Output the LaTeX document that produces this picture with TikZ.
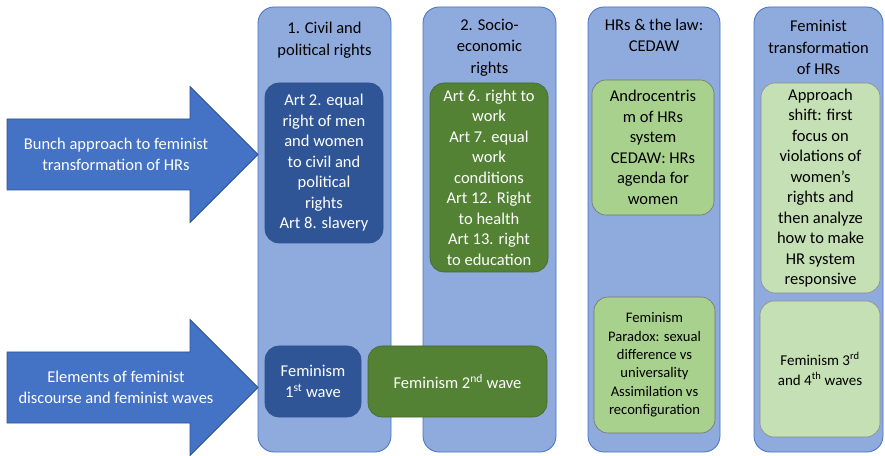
\documentclass[tikz,border=0pt]{standalone}
\usepackage{fontspec}
\setmainfont{Carlito}
\usetikzlibrary{positioning}
\definecolor{colblue}{HTML}{8FAADC}
\definecolor{midblue}{HTML}{4472C4}
\definecolor{edgeblue}{HTML}{2F528F}
\definecolor{darkblue}{HTML}{2F5597}
\definecolor{darkgreen}{HTML}{548235}
\definecolor{lightgreen}{HTML}{A9D18E}
\definecolor{palegreen}{HTML}{C5E0B4}
\newcommand{\bodyfont}{\fontsize{16.5}{20.5}\selectfont}

\begin{document}
\begin{tikzpicture}[x=1pt,y=1pt,
      column/.style={
         rectangle,
         rounded corners=16pt,
         draw=midblue,
         fill=colblue,
         line width=0.8pt,
         inner sep=0pt,
         minimum height=445pt},
      coltitle/.style={align=center, inner sep=0pt, font=\fontsize{16.5}{21.5}\selectfont},
      box/.style={
         rectangle,
         rounded corners=14pt,
         align=center,
         inner sep=0pt,
         line width=0.6pt,
         font=\bodyfont},
      bluebox/.style={box, fill=darkblue, draw=edgeblue, text=white},
      greenbox/.style={box, fill=darkgreen, draw=darkgreen!80!black, text=white},
      lightbox/.style={box, fill=lightgreen, draw=black!55},
      palebox/.style={box, fill=palegreen, draw=black!45},
      bigarrow/.style={fill=midblue, draw=edgeblue, line width=0.8pt},
      arrowtext/.style={align=center, text=white, inner sep=0pt, font=\bodyfont}
      ]
      \useasboundingbox (0,0) rectangle (885,455);

      % the four columns
      \node[column, minimum width=133pt] (civil) at (324.5,225.5) {};
      \node[column, minimum width=133pt] (socio) at (489.5,225.5) {};
      \node[column, minimum width=132pt] (cedaw) at (654,225.5) {};
      \node[column, minimum width=129pt] (transf) at (818.5,225.5) {};

      \node[coltitle] (civilt) at (324.5,415) {1. Civil and\\political rights};
      \node[coltitle] (sociot) at (489.5,407.5) {2. Socio-\\economic\\rights};
      \node[coltitle] (cedawt) at (654,419.5) {HRs \& the law:\\CEDAW};
      \node[coltitle] (transft) at (818.5,407.5) {Feminist\\transformation\\of HRs};

      % boxes of the upper row
      \node[bluebox, minimum width=118pt, minimum height=160pt] (art2) at (324,292)
         {Art 2. equal\\right of men\\and women\\to civil and\\political\\rights\\Art 8. slavery};
      \node[greenbox, minimum width=118pt, minimum height=189pt] (art6) at (489,277.5)
         {Art 6. right to\\work\\Art 7. equal\\work\\conditions\\Art 12. Right\\to health\\Art 13. right\\to education};
      \node[lightbox, minimum width=122pt, minimum height=135pt] (andro) at (653,307.5)
         {Androcentris\\m of HRs\\system\\CEDAW: HRs\\agenda for\\women};
      \node[palebox, minimum width=119pt, minimum height=210pt] (shift) at (820.5,267)
         {Approach\\shift: first\\focus on\\violations of\\women’s\\rights and\\then analyze\\how to make\\HR system\\responsive};

      % boxes of the lower row
      \node[bluebox, minimum width=96pt, minimum height=71pt] (wave1) at (313,73.5)
         {Feminism\\1\textsuperscript{st} wave};
      \node[greenbox, minimum width=179pt, minimum height=71pt] (wave2) at (457.5,73.5)
         {Feminism 2\textsuperscript{nd} wave};
      \node[lightbox, minimum width=121pt, minimum height=136pt,
         font=\fontsize{14.6}{18.4}\selectfont] (paradox) at (654.5,90)
         {Feminism\\Paradox: sexual\\difference vs\\universality\\Assimilation vs\\reconfiguration};
      \node[palebox, minimum width=120pt, minimum height=136pt,
         font=\fontsize{15}{20}\selectfont] (wave34) at (820,86)
         {Feminism 3\textsuperscript{rd}\\and 4\textsuperscript{th} waves};

      % the two block arrows
      \foreach \name/\yc/\txt in {% node name/centre line/text
        bunch/300.5/{Bunch approach to feminist\\transformation of HRs},
        elements/67.5/{Elements of feminist\\discourse and feminist waves}}
      {
        \draw[bigarrow] (7,\yc-35.5) -- (190,\yc-35.5) -- (190,\yc-68) -- (258,\yc)
           -- (190,\yc+68) -- (190,\yc+35.5) -- (7,\yc+35.5) -- cycle;
        \node[arrowtext] (\name) at (116,\yc) {\txt};
      }
\end{tikzpicture}
\end{document}
